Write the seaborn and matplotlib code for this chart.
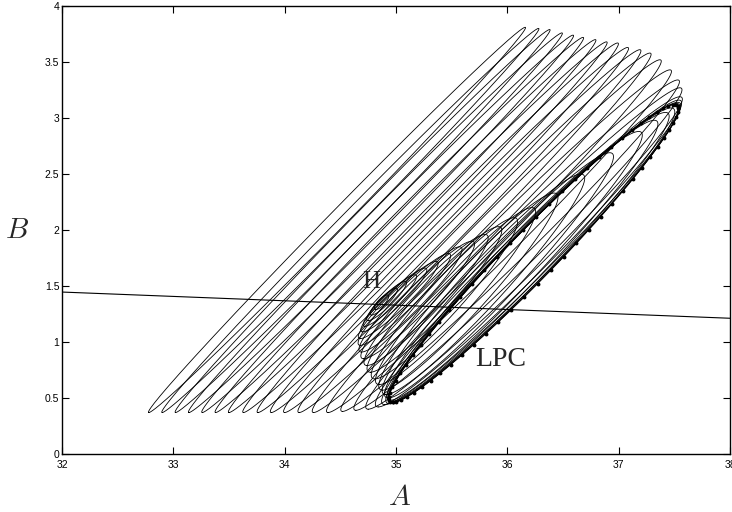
import matplotlib
matplotlib.use('Agg')
import matplotlib.pyplot as plt
import numpy as np
import pandas as pd
import seaborn as sns

# Limit cycles: each cycle is given by its lower-left
# tip (bot), its upper-right tip (top) and its half-width
inner_bot_A = [34.82, 34.78, 34.75, 34.72, 34.70, 34.68, 34.68, 34.69, 34.71, 34.74,
               34.77, 34.81, 34.85, 34.88, 34.91, 34.93, 34.95, 34.96, 34.965, 34.97]
inner_bot_B = [1.29, 1.24, 1.19, 1.14, 1.09, 1.03, 0.97, 0.91, 0.85, 0.79,
               0.73, 0.67, 0.62, 0.57, 0.53, 0.50, 0.48, 0.47, 0.465, 0.46]
inner_top_A = [34.92, 35.00, 35.08, 35.17, 35.26, 35.36, 35.47, 35.57, 35.68, 35.80,
               35.92, 36.06, 36.22, 36.42, 36.66, 36.92, 37.18, 37.32, 37.42, 37.47]
inner_top_B = [1.42, 1.48, 1.54, 1.60, 1.66, 1.72, 1.79, 1.85, 1.90, 1.96,
               2.03, 2.11, 2.20, 2.33, 2.50, 2.69, 2.88, 2.98, 3.05, 3.09]
inner_w = [0.04, 0.055, 0.07, 0.085, 0.10, 0.115, 0.13, 0.145, 0.16, 0.175,
           0.19, 0.205, 0.22, 0.235, 0.25, 0.26, 0.27, 0.28, 0.29, 0.295]

# the limit point of cycles
lpc_bot = (34.97, 0.46)
lpc_top = (37.50, 3.12)
lpc_w = 0.30

outer_bot_A = [32.78, 32.90, 33.02, 33.14, 33.26, 33.38, 33.50, 33.63, 33.76, 33.88,
               34.00, 34.13, 34.26, 34.39, 34.52, 34.64, 34.75, 34.84, 34.90, 34.94,
               34.96]
outer_bot_B = [0.37, 0.37, 0.37, 0.37, 0.37, 0.37, 0.37, 0.37, 0.37, 0.37,
               0.37, 0.37, 0.37, 0.37, 0.38, 0.39, 0.40, 0.42, 0.44, 0.45,
               0.455]
outer_top_A = [36.16, 36.28, 36.38, 36.49, 36.59, 36.68, 36.79, 36.89, 36.99, 37.08,
               37.19, 37.28, 37.37, 37.46, 37.53, 37.55, 37.55, 37.54, 37.53, 37.52,
               37.51]
outer_top_B = [3.81, 3.80, 3.79, 3.76, 3.74, 3.72, 3.70, 3.68, 3.67, 3.63,
               3.61, 3.58, 3.52, 3.43, 3.34, 3.27, 3.19, 3.16, 3.14, 3.13,
               3.125]
outer_w = [0.11, 0.115, 0.12, 0.125, 0.13, 0.135, 0.14, 0.15, 0.16, 0.17,
           0.18, 0.19, 0.20, 0.21, 0.22, 0.235, 0.25, 0.265, 0.28, 0.29,
           0.295]

# equilibrium line
eq_A = [32.0, 38.0]
eq_B = [1.446, 1.212]


def cycle(bot, top, w, n=300):
    t = np.linspace(0, 2 * np.pi, n)
    cx, cy = (bot[0] + top[0]) / 2, (bot[1] + top[1]) / 2
    dx, dy = (top[0] - bot[0]) / 2, (top[1] - bot[1]) / 2
    return cx - dx * np.cos(t) + w * np.sin(t), cy - dy * np.cos(t)


rows = []
k = 0
for bA, bB, tA, tB, w in zip(inner_bot_A + outer_bot_A, inner_bot_B + outer_bot_B,
                             inner_top_A + outer_top_A, inner_top_B + outer_top_B,
                             inner_w + outer_w):
    x, y = cycle((bA, bB), (tA, tB), w)
    rows.append(pd.DataFrame({'A': x, 'B': y, 'cycle': k}))
    k += 1
df = pd.concat(rows, ignore_index=True)

lx, ly = cycle(lpc_bot, lpc_top, lpc_w)
df_lpc = pd.DataFrame({'A': lx, 'B': ly})
mx, my = cycle(lpc_bot, lpc_top, lpc_w, n=70)

sns.set_style('ticks')
plt.rcParams['mathtext.fontset'] = 'cm'
fig = plt.figure(figsize=(7.32, 5.12), dpi=100)
ax = fig.add_axes([62 / 732, 1 - 454 / 512, 668 / 732, 448 / 512])

sns.lineplot(data=df, x='A', y='B', units='cycle', estimator=None, sort=False,
             color='black', lw=0.6, ax=ax)
sns.lineplot(data=df_lpc, x='A', y='B', estimator=None, sort=False,
             color='black', lw=0.6, ax=ax)
ax.plot(mx, my, ls='none', marker='o', ms=1.8, color='black')
sns.lineplot(x=eq_A, y=eq_B, color='black', lw=0.8, ax=ax)

ax.set_xlim(32, 38)
ax.set_ylim(0, 4)
ax.set_xticks(np.arange(32, 39, 1))
ax.set_yticks(np.arange(0, 4.01, 0.5))
ax.set_xticklabels(['32', '33', '34', '35', '36', '37', '38'])
ax.set_yticklabels(['0', '0.5', '1', '1.5', '2', '2.5', '3', '3.5', '4'])
ax.tick_params(direction='in', length=5, width=0.8, top=True, right=True,
               labelsize=7.5, colors='black')
ax.tick_params(axis='x', pad=4)
ax.tick_params(axis='y', pad=2)
for lab in ax.get_xticklabels() + ax.get_yticklabels():
    lab.set_family('Liberation Sans')
for s in ax.spines.values():
    s.set_visible(True)
    s.set_linewidth(1.0)
    s.set_color('black')
ax.set_xlabel('')
ax.set_ylabel('')

ax.text(34.78, 1.54, 'H', fontsize=18, family='Liberation Serif',
        ha='center', va='center')
ax.text(35.94, 0.84, 'LPC', fontsize=20, family='Liberation Serif',
        ha='center', va='center')
fig.text(400 / 732, 1 - 497 / 512, r'$A$', fontsize=21, ha='center', va='center')
fig.text(17 / 732, 1 - 230 / 512, r'$B$', fontsize=21, ha='center', va='center')

fig.savefig('out.png', dpi=100)
